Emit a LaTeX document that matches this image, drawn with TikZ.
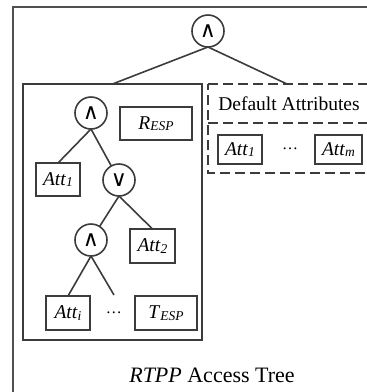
\documentclass[tikz,border=0pt]{standalone}
\usepackage{fontspec}
\setmainfont{Liberation Serif}
\newfontfamily\symfont{DejaVu Sans}
\newcommand\lbl[2]{\textit{#1}\raisebox{-1.5pt}{\fontsize{13.5}{13.5}\selectfont\textit{#2}}}
\newcommand\opsym[1]{{\symfont\fontsize{22}{22}\selectfont #1}}
\definecolor{ln}{HTML}{3c3c3c}
\begin{document}
\begin{tikzpicture}[x=1pt,y=-1pt,
  every node/.style={inner sep=0pt,outer sep=0pt,font=\fontsize{19.5}{19.5}\selectfont,text=black},
  opnode/.style={circle,draw=ln,line width=1.6pt,minimum size=32pt},
  attbox/.style={rectangle,draw=ln,line width=1.6pt},
  edge/.style={draw=ln,line width=1.6pt},
  dots/.style={font=\fontsize{16}{16}\selectfont}]
\clip (0,0) rectangle (367,392);
% outer box
\draw[draw=ln!90,line width=2.2pt] (13,7) rectangle (420,430);
% root
\node[opnode] (root) at (208,31) {\opsym{∧}};
% left solid box
\node[attbox,minimum width=179pt,minimum height=256pt] (lbox) at (112.5,212) {};
% dashed default box
\draw[draw=ln,line width=1.6pt,dash pattern=on 10pt off 5pt] (208,84) -- (380,84) (380,173) -- (208,173) -- (208,84);
\draw[draw=ln,line width=1.6pt,dash pattern=on 10pt off 5pt] (208,123) -- (380,123);
\coordinate (dtop) at (287,84);
\node (deftxt) at (289,104) {Default Attributes};
\node[attbox,minimum width=44pt,minimum height=29pt] (datt1) at (240,149.5) {\lbl{Att}{1}};
\node[dots] (ddots) at (290,149) {…};
\node[attbox,minimum width=47pt,minimum height=29pt] (dattm) at (338.5,149.5) {\lbl{Att}{m}};
% left tree
\node[opnode] (and1) at (91,113) {\opsym{∧}};
\node[attbox,minimum width=72pt,minimum height=33pt] (resp) at (156,123.5) {\lbl{R}{ESP}};
\node[attbox,minimum width=44pt,minimum height=33pt] (att1) at (58,179.5) {\lbl{Att}{1}};
\node[opnode] (or1) at (119,180) {\opsym{∨}};
\node[opnode] (and2) at (91,240) {\opsym{∧}};
\node[attbox,minimum width=45pt,minimum height=34pt] (att2) at (152.5,246) {\lbl{Att}{2}};
\node[attbox,minimum width=44pt,minimum height=34pt] (atti) at (68,313) {\lbl{Att}{i}};
\node[dots] (ldots) at (114,313) {…};
\coordinate (lfree) at (114,295);
\node[attbox,minimum width=62pt,minimum height=34pt] (tesp) at (166,313) {\lbl{T}{ESP}};
% title
\node[font=\fontsize{22}{22}\selectfont] (title) at (212,375) {\textit{RTPP} Access Tree};
% edges
\path[edge] (root.south) -- (lbox.north);
\path[edge] (root.south) -- (dtop);
\path[edge] (and1.south) -- (att1.north);
\path[edge] (and1.south) -- (or1);
\path[edge] (or1.south) -- (and2);
\path[edge] (or1.south) -- (att2.north);
\path[edge] (and2.south) -- (atti.north);
\path[edge] (and2.south) -- (lfree);
\end{tikzpicture}
\end{document}
